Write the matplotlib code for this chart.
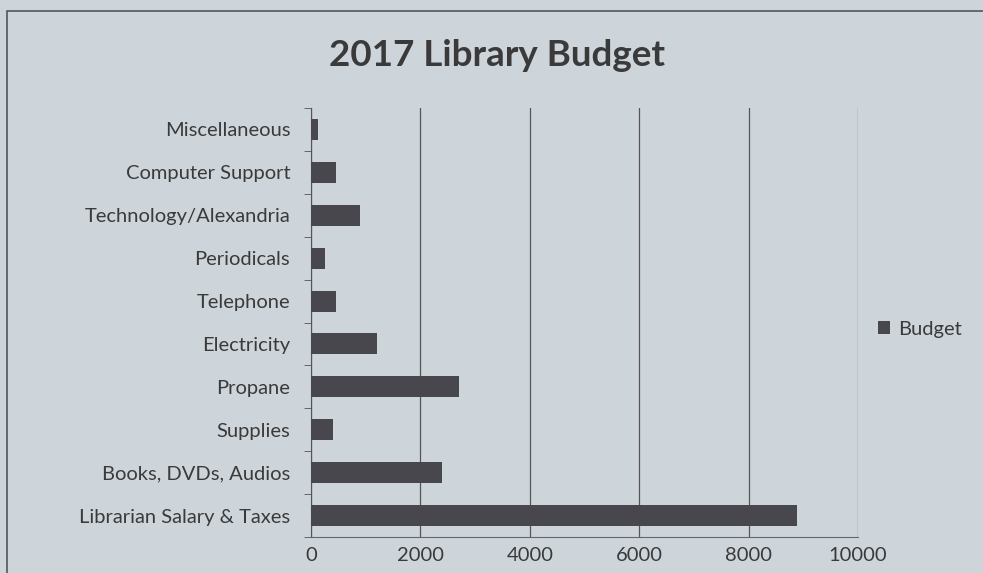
import matplotlib
matplotlib.use("Agg")
import matplotlib.pyplot as plt
from matplotlib.patches import Rectangle

categories = ["Librarian Salary & Taxes", "Books, DVDs, Audios", "Supplies", "Propane",
              "Electricity", "Telephone", "Periodicals", "Technology/Alexandria",
              "Computer Support", "Miscellaneous"]
budget = [8890, 2400, 400, 2700, 1200, 450, 250, 900, 450, 125]
xticks = [0, 2000, 4000, 6000, 8000, 10000]

plt.rcParams['font.family'] = ['Lato', 'DejaVu Sans']
bg = "#ced5da"
txt = "#3a3a3a"
fig = plt.figure(figsize=(9.83, 5.73), dpi=100, facecolor=bg)
ax = fig.add_axes([311/983, 1-537/573, (858-311)/983, (537-108)/573])
ax.set_facecolor(bg)

ax.barh(range(len(categories)), budget, height=0.49, color="#48474d", zorder=3, label="Budget")
ax.set_xlim(0, 10000)
ax.set_ylim(-0.5, len(categories)-0.5)
ax.set_xticks(xticks)
ax.set_xticklabels([str(t) for t in xticks], fontsize=14.5, color=txt)
ax.set_yticks(range(len(categories)))
ax.set_yticklabels(categories, fontsize=14.5, color=txt)
ax.tick_params(axis='y', length=0, pad=15)
ax.tick_params(axis='x', length=0, pad=7)
ax.set_yticks([i-0.5 for i in range(len(categories)+1)], minor=True)
ax.tick_params(axis='y', which='minor', length=5, color="#555555", direction='out')
ax.grid(axis='x', color="#555555", linewidth=0.9, zorder=1)
for s in ['top', 'right']:
    ax.spines[s].set_visible(False)
ax.spines['left'].set_color("#555555")
ax.spines['bottom'].set_color("#666666")

fig.text(497/983, 1-55/573, "2017 Library Budget", ha='center', va='center',
         fontsize=26.5, fontweight='bold', color=txt)

leg = fig.legend(loc='center left', bbox_to_anchor=(860/983, 1-329/573), frameon=False,
                 fontsize=14.5, handlelength=0.6, handleheight=0.6, handletextpad=0.4,
                 labelcolor=txt)

fig.patches.append(Rectangle((7/983, -0.1), 1.2, 1.1-11/573, transform=fig.transFigure,
                             fill=False, edgecolor="#555555", linewidth=1.2))
fig.savefig("out.png", dpi=100, facecolor=bg)
